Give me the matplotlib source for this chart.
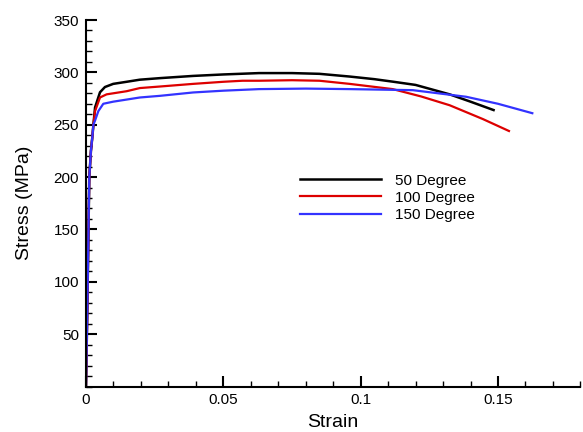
import numpy as np
import matplotlib.pyplot as plt
from matplotlib.ticker import MultipleLocator

plt.rcParams['font.family'] = ['Liberation Sans', 'DejaVu Sans']

# strain / stress
strain_50 = [0, 0.0004, 0.0008, 0.0012, 0.0018, 0.0023, 0.0027, 0.0033, 0.0051, 0.0069, 0.0099, 0.0148,
             0.0196, 0.027, 0.039, 0.05, 0.063, 0.075, 0.085, 0.096, 0.105, 0.112, 0.120, 0.1324, 0.140, 0.1484]
stress_50 = [0, 60, 130, 200, 225, 238, 250, 266.5, 281, 286, 289, 291,
             293, 294.5, 296.6, 298, 299.3, 299.3, 298.6, 296, 293.5, 291, 288, 279, 272, 264]

strain_100 = [0, 0.0004, 0.0008, 0.0012, 0.0018, 0.0023, 0.0027, 0.0033, 0.0051, 0.0075, 0.0148, 0.0196,
              0.027, 0.039, 0.05, 0.057, 0.063, 0.075, 0.085, 0.096, 0.1117, 0.122, 0.1324, 0.1445, 0.154]
stress_100 = [0, 60, 130, 200, 225, 238, 250, 263, 276, 279, 282, 285,
              286.5, 289, 291, 292, 292, 292.5, 292, 289, 284, 277, 268.6, 255.4, 244]

strain_150 = [0, 0.0004, 0.0008, 0.0012, 0.0018, 0.0023, 0.0027, 0.0033, 0.0045, 0.0063, 0.0099, 0.0196,
              0.027, 0.039, 0.05, 0.063, 0.08, 0.096, 0.119, 0.1384, 0.150, 0.1625]
stress_150 = [0, 60, 130, 200, 225, 238, 250, 254, 263, 270, 272, 276,
              277.6, 280.8, 282.5, 284, 284.5, 284, 283, 276.7, 270, 261]

labels = ['50 Degree', '100 Degree', '150 Degree']
colors = ['black', '#dd0000', '#3333ff']

fig = plt.figure(figsize=(5.83, 4.32), dpi=100)
ax = fig.add_axes([0.1475, 0.1053, 0.848, 0.8484])

ax.plot(strain_50, stress_50, color=colors[0], lw=1.8, label=labels[0])
ax.plot(strain_100, stress_100, color=colors[1], lw=1.6, label=labels[1])
ax.plot(strain_150, stress_150, color=colors[2], lw=1.6, label=labels[2])

ax.set_xlim(0, 0.18)
ax.set_ylim(0, 350)
ax.xaxis.set_minor_locator(MultipleLocator(0.01))
ax.yaxis.set_minor_locator(MultipleLocator(10))
ax.set_xticks([0, 0.05, 0.1, 0.15])
ax.set_xticklabels(['0', '0.05', '0.1', '0.15'])
ax.set_yticks([50, 100, 150, 200, 250, 300, 350])

for s in ['top', 'right']:
    ax.spines[s].set_visible(False)
for s in ['left', 'bottom']:
    ax.spines[s].set_linewidth(1.5)

ax.tick_params(which='major', direction='in', length=8, width=1.5, labelsize=11, pad=5)
ax.tick_params(which='minor', direction='in', length=4.5, width=1.0)

ax.set_xlabel('Strain', fontsize=14)
ax.set_ylabel('Stress (MPa)', fontsize=14)
ax.xaxis.set_label_coords(0.5, -0.075)
ax.yaxis.set_label_coords(-0.107, 0.5)

ax.legend(frameon=False, loc='upper left', bbox_to_anchor=(0.405, 0.618),
          fontsize=11, handlelength=5.3, handletextpad=0.9, labelspacing=0.2)

fig.savefig('out.png', dpi=100)
